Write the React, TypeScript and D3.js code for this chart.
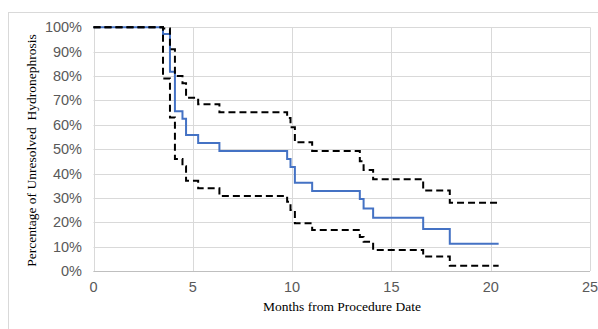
import React from "react";
import * as d3 from "d3";

const times = [0, 3.5, 3.85, 4.1, 4.48, 4.66, 5.27, 6.34, 9.75, 9.92, 10.14, 11.01, 13.41, 13.6, 14.08, 16.6, 17.94];
const estimate = [100, 97.3, 81.8, 65.6, 62.5, 55.8, 52.5, 49.2, 46.0, 42.7, 36.2, 32.8, 29.5, 25.6, 21.9, 17.2, 11.2];
const lowerCI = [100, 79, 63, 46, 43, 37, 34, 30.8, 28.4, 25, 19.6, 16.8, 14, 12, 8.6, 5.9, 2.2];
const upperCI = [100, 99.5, 91, 80, 77, 71.1, 68.4, 65.1, 62.8, 59, 52.8, 49.2, 45, 41.4, 37.7, 33, 28];
const endTime = 20.4;
const xTicks = [0, 5, 10, 15, 20, 25];
const yTicks = [0, 10, 20, 30, 40, 50, 60, 70, 80, 90, 100];
const xTitle = "Months from Procedure Date";
const yTitle = "Percentage of Unresolved  Hydronephrosis";

export default function App() {
  const W = 598, H = 329;
  const x = d3.scaleLinear().domain([0, 25]).range([93.5, 590]);
  const y = d3.scaleLinear().domain([0, 100]).range([271, 27.3]);
  const mk = (vals: number[]) => {
    const pts: [number, number][] = times.map((t, i) => [t, vals[i]]);
    pts.push([endTime, vals[vals.length - 1]]);
    return d3.line<[number, number]>().x(d => x(d[0])).y(d => y(d[1])).curve(d3.curveStepAfter)(pts) || "";
  };
  const sans = "'Liberation Sans', Arial, sans-serif";
  const serif = "'Liberation Serif', 'Times New Roman', serif";
  return (
    <svg width={W} height={H} style={{ position: "absolute", left: 0, top: 0, background: "#fff" }}>
      <rect x={0} y={0} width={W} height={H} fill="#fff" />
      <rect x={8.5} y={12.5} width={700} height={400} fill="none" stroke="#d9d9d9" />
      {yTicks.map(t => (
        <line key={"gy" + t} x1={x(0)} x2={x(25)} y1={Math.round(y(t)) + 0.5} y2={Math.round(y(t)) + 0.5} stroke="#d9d9d9" strokeWidth={1} />
      ))}
      {xTicks.map(t => (
        <line key={"gx" + t} x1={Math.round(x(t)) + 0.5} x2={Math.round(x(t)) + 0.5} y1={y(100)} y2={y(0)} stroke="#d9d9d9" strokeWidth={1} />
      ))}
      <line x1={x(0)} x2={x(25)} y1={Math.round(y(0)) + 0.5} y2={Math.round(y(0)) + 0.5} stroke="#bfbfbf" strokeWidth={1} />
      <path d={mk(estimate)} fill="none" stroke="#4472c4" strokeWidth={2} />
      <path d={mk(upperCI)} fill="none" stroke="#000" strokeWidth={2} strokeDasharray="7,4" />
      <path d={mk(lowerCI)} fill="none" stroke="#000" strokeWidth={2} strokeDasharray="7,4" />
      {yTicks.map(t => (
        <text key={"ly" + t} x={82} y={y(t)} dy="0.35em" textAnchor="end" fontFamily={sans} fontSize={14.5} fill="#595959">{t + "%"}</text>
      ))}
      {xTicks.map(t => (
        <text key={"lx" + t} x={x(t)} y={287} dy="0.35em" textAnchor="middle" fontFamily={sans} fontSize={14.5} fill="#595959">{t}</text>
      ))}
      <text x={342} y={306} dy="0.35em" textAnchor="middle" fontFamily={serif} fontSize={13.5} fill="#000">{xTitle}</text>
      <text transform="translate(31,150.5) rotate(-90)" dy="0.35em" textAnchor="middle" fontFamily={serif} fontSize={13.5} fill="#000" style={{ whiteSpace: "pre" }}>{yTitle}</text>
    </svg>
  );
}
